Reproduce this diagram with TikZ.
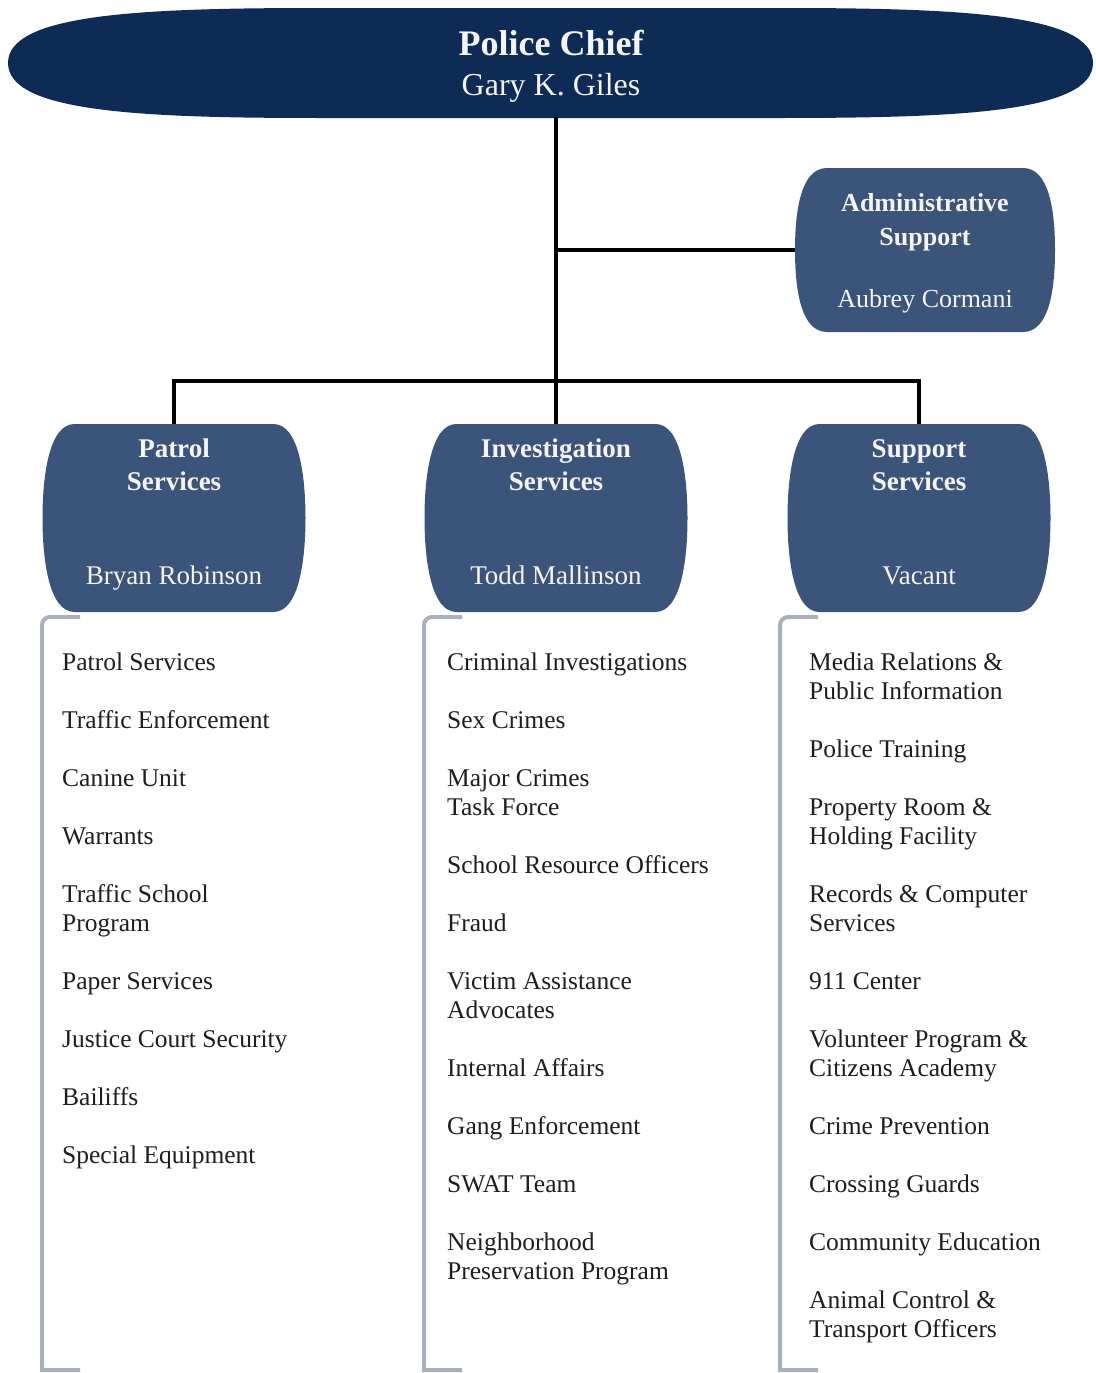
\documentclass[tikz,border=0pt]{standalone}
\usepackage{fontspec}
\setmainfont{Liberation Serif}
\usetikzlibrary{positioning}
\definecolor{ChiefNavy}{HTML}{0D2B55}
\definecolor{UnitSlate}{HTML}{3B5479}
\definecolor{BracketGray}{HTML}{A9B1BC}
\definecolor{PaleWhite}{HTML}{F4F4F4}
\definecolor{DutyInk}{HTML}{1E1E1E}
% struts so every unit box sets its lines at the same heights
\newcommand\unithead{\rule{0pt}{20pt}}
\newcommand\unitfoot{\rule[-13.5pt]{0pt}{13.5pt}}
\tikzset{
  unitbox/.style={rectangle,fill=white,inner sep=0pt,align=center,text=PaleWhite,minimum width=263pt,minimum height=188pt,font=\fontsize{27}{33}\selectfont,
    path picture={
      \path (path picture bounding box.north west) coordinate (nw) (path picture bounding box.north east) coordinate (ne)
            (path picture bounding box.south west) coordinate (sw) (path picture bounding box.south east) coordinate (se)
            (path picture bounding box.west) coordinate (w) (path picture bounding box.east) coordinate (e);
      % barrel outline: flat top and bottom, bulging sides
      \fill[UnitSlate] ([xshift=32pt]nw) -- ([xshift=-32pt]ne) .. controls ([xshift=-6pt]ne) and ([yshift=40pt]e) .. (e)
        .. controls ([yshift=-40pt]e) and ([xshift=-6pt]se) .. ([xshift=-32pt]se)
        -- ([xshift=32pt]sw) .. controls ([xshift=6pt]sw) and ([yshift=-40pt]w) .. (w)
        .. controls ([yshift=40pt]w) and ([xshift=6pt]nw) .. ([xshift=32pt]nw) -- cycle;
    }},
  orgline/.style={line width=4pt,draw=black},
  bracketline/.style={line width=4pt,draw=BracketGray},
  dutylist/.style={anchor=north west,align=left,inner sep=0pt,font=\fontsize{25.5}{29}\selectfont,text=DutyInk}
}

\begin{document}
\begin{tikzpicture}[x=1pt,y=-1pt]
\useasboundingbox[fill=white] (0,0) rectangle (1095,1373);

% chief banner
\fill[ChiefNavy] (8,63) .. controls (8,14) and (140,8) .. (320,8) -- (780,8) .. controls (960,8) and (1093,14) .. (1093,63)
  .. controls (1093,112) and (960,118) .. (780,118) -- (320,118) .. controls (140,118) and (8,112) .. (8,63) -- cycle;
\node[text=PaleWhite,align=center,minimum width=1085pt,minimum height=102pt,font=\fontsize{32}{40}\selectfont] (chief) at (551,66)
  {{\fontsize{36}{40}\selectfont\bfseries Police Chief}\\Gary K. Giles};

\node[unitbox,minimum width=260pt,minimum height=164pt,font=\fontsize{26}{34}\selectfont] (adm) at (925,250)
  {\rule{0pt}{24pt}\textbf{Administrative}\\\textbf{Support}\\[28pt]Aubrey Cormani};

\node[unitbox] (pat) at (174,518) {\unithead\textbf{Patrol}\\\textbf{Services}\\[61pt]Bryan Robinson\unitfoot};
\node[unitbox] (inv) at (556,518) {\unithead\textbf{Investigation}\\\textbf{Services}\\[61pt]Todd Mallinson\unitfoot};
\node[unitbox] (sup) at (919,518) {\unithead\textbf{Support}\\\textbf{Services}\\[61pt]Vacant\unitfoot};

% reporting lines
\coordinate (bar) at (556,381);
\draw[orgline] (inv.north |- chief.south) -- (inv.north);
\draw[orgline] (bar |- adm.west) -- (adm.west);
\draw[orgline] (pat.north) |- (bar) -| (sup.north);

% brackets under each unit
\foreach \bx in {42,424,780}
  \draw[bracketline] (\bx+38,617) [rounded corners=8pt]-- (\bx,617) [sharp corners]-- (\bx,1370) -- (\bx+38,1370);

\node[dutylist] (patlist) at (62,653) {Patrol Services\\[29pt]Traffic Enforcement\\[29pt]Canine Unit\\[29pt]Warrants\\[29pt]Traffic School\\Program\\[29pt]Paper Services\\[29pt]Justice Court Security\\[29pt]Bailiffs\\[29pt]Special Equipment};
\node[dutylist] (invlist) at (447,653) {Criminal Investigations\\[29pt]Sex Crimes\\[29pt]Major Crimes\\Task Force\\[29pt]School Resource Officers\\[29pt]Fraud\\[29pt]Victim Assistance\\Advocates\\[29pt]Internal Affairs\\[29pt]Gang Enforcement\\[29pt]SWAT Team\\[29pt]Neighborhood\\Preservation Program};
\node[dutylist] (suplist) at (809,653) {Media Relations \&\\Public Information\\[29pt]Police Training\\[29pt]Property Room \&\\Holding Facility\\[29pt]Records \& Computer\\Services\\[29pt]911 Center\\[29pt]Volunteer Program \&\\Citizens Academy\\[29pt]Crime Prevention\\[29pt]Crossing Guards\\[29pt]Community Education\\[29pt]Animal Control \&\\Transport Officers};
\end{tikzpicture}
\end{document}
